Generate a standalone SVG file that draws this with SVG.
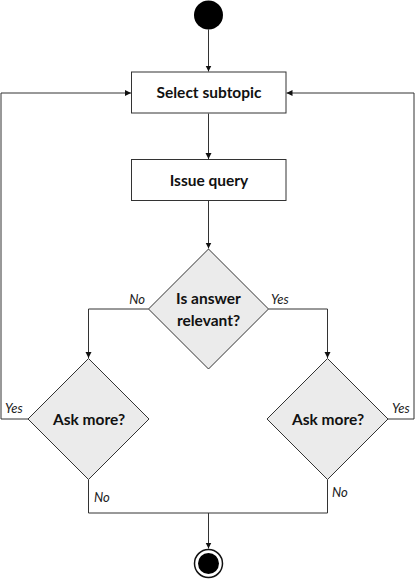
<svg xmlns="http://www.w3.org/2000/svg" width="415" height="579" viewBox="0 0 415 579">
<style>
.box{fill:#fff;stroke:#333;stroke-width:1}
.dia{fill:#ebebeb;stroke:#333;stroke-width:1}
.lbl{font-family:Lato,"Open Sans",sans-serif;font-size:15.5px;font-weight:bold;fill:#111;text-anchor:middle}
.edge{fill:none;stroke:#333;stroke-width:1}
.el{font-family:Lato,"Open Sans",sans-serif;font-size:13px;font-style:italic;fill:#222}
</style>
<defs>
<marker id="arr" markerWidth="7" markerHeight="7" refX="6" refY="3.5" orient="auto" markerUnits="userSpaceOnUse">
<path d="M0,0.5 L6,3.5 L0,6.5 Z" fill="#111"/>
</marker>
</defs>
<g id="connectors">
<path class="edge" d="M208.5,29.5 V71.5" marker-end="url(#arr)"/>
<path class="edge" d="M208.5,113.5 V159" marker-end="url(#arr)"/>
<path class="edge" d="M208.5,200.5 V248.5" marker-end="url(#arr)"/>
<path class="edge" d="M148.5,309 H88.5 V358" marker-end="url(#arr)"/>
<path class="edge" d="M268.5,309 H327.5 V358" marker-end="url(#arr)"/>
<path class="edge" d="M28,419 H1 V93 H131" marker-end="url(#arr)"/>
<path class="edge" d="M388,419 H414 V93 H286.5" marker-end="url(#arr)"/>
<path class="edge" d="M88.5,479.5 V513 H327.5 V479.5"/>
<path class="edge" d="M208.5,513 V548.5" marker-end="url(#arr)"/>
<text class="el" x="145" y="304" text-anchor="end">No</text>
<text class="el" x="271" y="304">Yes</text>
<text class="el" x="5" y="413">Yes</text>
<text class="el" x="392" y="413">Yes</text>
<text class="el" x="94" y="502">No</text>
<text class="el" x="332" y="497">No</text>
</g>
<g id="start"><circle cx="208.5" cy="15" r="14.5" fill="#000"/></g>
<g id="select"><rect class="box" x="131.5" y="72" width="154.5" height="41"/><text class="lbl" x="209" y="98">Select subtopic</text></g>
<g id="issue"><rect class="box" x="131.5" y="159.5" width="154.5" height="41"/><text class="lbl" x="209" y="185.5">Issue query</text></g>
<g id="relevant"><polygon class="dia" points="208.5,249 268.5,309 208.5,369 148.5,309"/><text class="lbl" x="208.5" y="304">Is answer</text><text class="lbl" x="208.5" y="325.5">relevant?</text></g>
<g id="askLeft"><polygon class="dia" points="88.5,358.5 149,419 88.5,479.5 28,419"/><text class="lbl" x="89" y="424.5">Ask more?</text></g>
<g id="askRight"><polygon class="dia" points="327.5,358.5 388,419 327.5,479.5 267,419"/><text class="lbl" x="328" y="424.5">Ask more?</text></g>
<g id="end"><circle cx="208.5" cy="563.5" r="14" fill="#fff" stroke="#111" stroke-width="1.5"/><circle cx="208.5" cy="563.5" r="10.5" fill="#000"/></g>
</svg>
